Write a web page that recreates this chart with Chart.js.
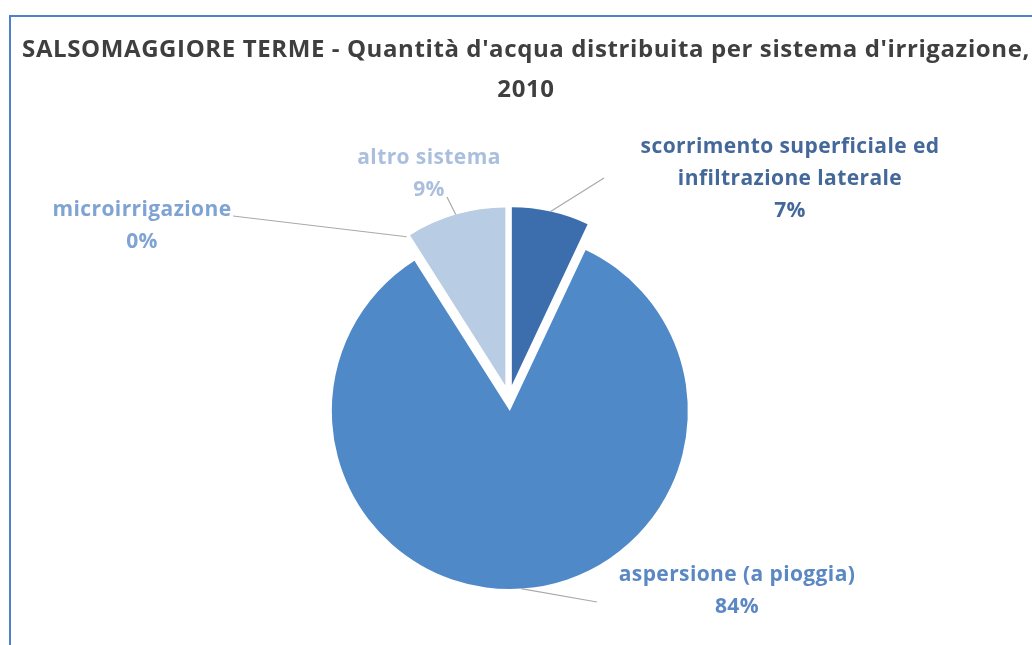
<!DOCTYPE html>
<html lang="it">
<head>
<meta charset="utf-8">
<title>Salsomaggiore Terme - irrigazione 2010</title>
<script src="https://cdn.jsdelivr.net/npm/chart.js@4"></script>
<style>
  html, body { margin: 0; padding: 0; background: #ffffff; overflow: hidden; }
  body { width: 1032px; height: 645px; position: relative; }
  #frame {
    position: absolute; left: 9px; top: 15px; right: -10px; bottom: -10px;
    border-top: 2px solid #4f81c8; border-left: 2px solid #4f81c8;
    pointer-events: none;
  }
  #wrap { position: absolute; left: 0; top: 0; width: 1032px; height: 645px; }
</style>
</head>
<body>
<div id="frame"></div>
<div id="wrap"><canvas id="chart" width="1032" height="645"></canvas></div>
<script>
// Sistemi d'irrigazione e quota d'acqua distribuita (%)
const categories = [
  ['scorrimento superficiale ed', 'infiltrazione laterale'],
  ['aspersione (a pioggia)'],
  ['microirrigazione'],
  ['altro sistema']
];
const shares = [7, 84, 0, 9];
const titleLines = [
  "SALSOMAGGIORE TERME - Quantità d'acqua distribuita per sistema d'irrigazione,",
  '2010'
];

const sliceColors = ['#3c6ead', '#4f89c8', '#7fa4d6', '#b8cce4'];
const labelColors = ['#44689a', '#5b88c2', '#7fa3d3', '#a9bfdd'];

// Etichette esterne: centro del testo e fine della linea guida, rispetto al centro della torta
const labelPlacement = [
  { text: [281, -219], leader: [95, -220] },
  { text: [228, 193],  leader: [88, 204] },
  { text: [-367, -172], leader: [-276, -182] },
  { text: [-80, -224], leader: [-62, -201] }
];

// Titolo su due righe, centrato sul riquadro del grafico
const chartTitle = {
  id: 'chartTitle',
  afterDraw(chart, args, opts) {
    const ctx = chart.ctx;
    ctx.save();
    ctx.font = opts.font;
    ctx.letterSpacing = opts.letterSpacing;
    ctx.fillStyle = opts.color;
    ctx.textAlign = 'center';
    ctx.textBaseline = 'middle';
    titleLines.forEach((t, k) => ctx.fillText(t, opts.x, opts.y + k * opts.lineHeight));
    ctx.restore();
  }
};

// Spicchi staccati dal centro di una distanza fissa lungo la bisettrice
const explode = {
  id: 'explode',
  beforeDatasetDraw(chart, args, opts) {
    const ctx = chart.ctx;
    args.meta.data.forEach(arc => {
      const { startAngle, endAngle } = arc.getProps(['startAngle', 'endAngle'], true);
      const mid = (startAngle + endAngle) / 2;
      ctx.save();
      ctx.translate(Math.cos(mid) * opts.shift, Math.sin(mid) * opts.shift);
      arc.draw(ctx, chart.chartArea);
      ctx.restore();
    });
    return false;
  }
};

const outsideLabels = {
  id: 'outsideLabels',
  afterDatasetsDraw(chart, args, opts) {
    const ctx = chart.ctx;
    const meta = chart.getDatasetMeta(0);
    const shift = chart.options.plugins.explode.shift;
    const total = shares.reduce((a, b) => a + b, 0);
    meta.data.forEach((arc, i) => {
      const p = arc.getProps(['x', 'y', 'startAngle', 'endAngle', 'outerRadius'], true);
      const mid = (p.startAngle + p.endAngle) / 2;
      const sx = p.x + Math.cos(mid) * (p.outerRadius + shift);
      const sy = p.y + Math.sin(mid) * (p.outerRadius + shift);
      const place = opts.placement[i];
      ctx.save();
      ctx.strokeStyle = '#a9a9a9';
      ctx.lineWidth = 1.2;
      ctx.beginPath();
      ctx.moveTo(sx, sy);
      ctx.lineTo(p.x + place.leader[0], p.y + place.leader[1]);
      ctx.stroke();

      const lines = categories[i].concat([Math.round(shares[i] / total * 100) + '%']);
      const lh = opts.lineHeight;
      const cx = p.x + place.text[0];
      const cy = p.y + place.text[1] - (lines.length - 1) * lh / 2;
      ctx.font = opts.font;
      ctx.letterSpacing = opts.letterSpacing;
      ctx.fillStyle = labelColors[i];
      ctx.textAlign = 'center';
      ctx.textBaseline = 'middle';
      lines.forEach((t, k) => ctx.fillText(t, cx, cy + k * lh));
      ctx.restore();
    });
  }
};

new Chart(document.getElementById('chart'), {
  type: 'pie',
  data: {
    labels: categories,
    datasets: [{
      data: shares,
      backgroundColor: sliceColors,
      borderWidth: 0
    }]
  },
  options: {
    responsive: false,
    animation: false,
    radius: 178,
    layout: { padding: { top: 151, left: 0, right: 14, bottom: 0 } },
    plugins: {
      legend: { display: false },
      tooltip: { enabled: false },
      title: { display: false },
      explode: { shift: 13 },
      chartTitle: {
        x: 526, y: 50, lineHeight: 40,
        font: 'bold 24px "Open Sans"', letterSpacing: '0.6px', color: '#3f3f3f'
      },
      outsideLabels: {
        placement: labelPlacement,
        font: 'bold 21px "Open Sans"',
        letterSpacing: '0.4px',
        lineHeight: 32
      }
    }
  },
  plugins: [explode, outsideLabels, chartTitle]
});
</script>
</body>
</html>
